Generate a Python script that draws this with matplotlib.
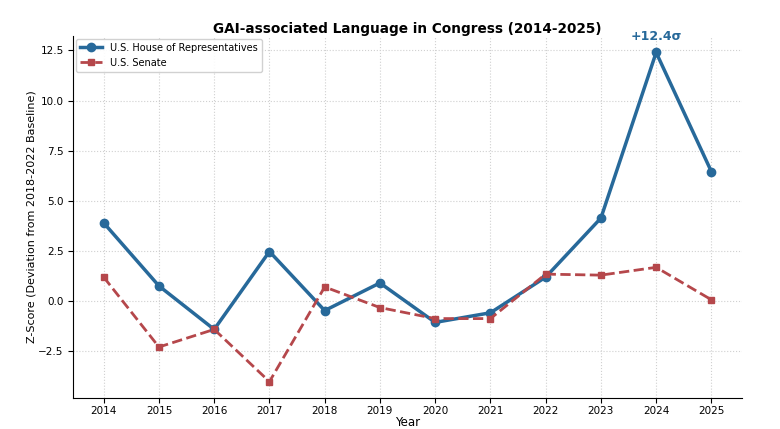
import matplotlib
matplotlib.use("Agg")
import matplotlib.pyplot as plt

# Data
years = [2014, 2015, 2016, 2017, 2018, 2019, 2020, 2021, 2022, 2023, 2024, 2025]
house = [3.89, 0.74, -1.43, 2.46, -0.49, 0.89, -1.08, -0.60, 1.18, 4.13, 12.4, 6.45]
senate = [1.18, -2.31, -1.43, -4.04, 0.69, -0.34, -0.89, -0.89, 1.33, 1.28, 1.67, 0.05]

HOUSE_COLOR = "#27699a"
SENATE_COLOR = "#b5474b"

fig, ax = plt.subplots(figsize=(7.8, 4.29), dpi=100)

ax.plot(years, house, color=HOUSE_COLOR, marker="o", markersize=6,
        linewidth=2.5, label="U.S. House of Representatives")
ax.plot(years, senate, color=SENATE_COLOR, marker="s", markersize=5,
        linewidth=2, linestyle="--", label="U.S. Senate")

# peak annotation
peak = house.index(max(house))
ax.annotate(f"+{house[peak]:.1f}σ", (years[peak], house[peak]),
            xytext=(0, 7), textcoords="offset points", ha="center",
            va="bottom", color=HOUSE_COLOR, fontsize=9, fontweight="bold")

ax.set_title("GAI-associated Language in Congress (2014-2025)",
             fontsize=9.8, fontweight="bold", pad=2)
ax.set_xlabel("Year", fontsize=8.5, labelpad=0)
ax.set_ylabel("Z-Score (Deviation from 2018-2022 Baseline)", fontsize=8,
              labelpad=1)
ax.set_xticks(years)
ax.tick_params(labelsize=7.5)
ax.tick_params(axis="x", pad=2.5)
ax.grid(True, linestyle=":", color="#d0d0d0", linewidth=0.8)
ax.spines["top"].set_visible(False)
ax.spines["right"].set_visible(False)
ax.legend(loc="upper left", fontsize=7, framealpha=0.9,
          borderaxespad=0.3, handlelength=2.3)

fig.subplots_adjust(left=0.094, right=0.951, top=0.916, bottom=0.072)
fig.savefig("out.png", dpi=100)
